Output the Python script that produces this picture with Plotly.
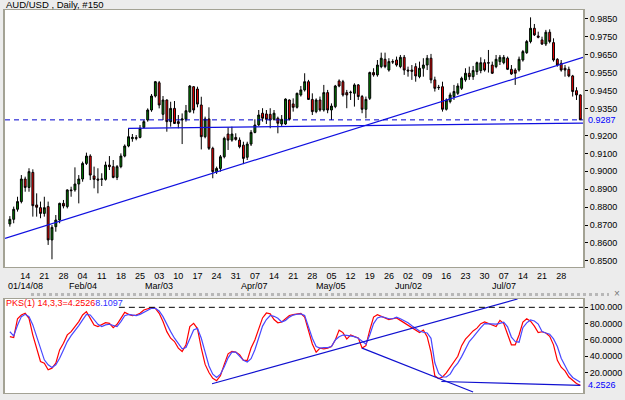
import plotly.graph_objects as go
import pandas as pd

# ---------------- data ----------------
start_date = "2008-01-08"
n_bars = 150

opens = [0.8706,0.8732,0.8788,0.8831,0.8957,0.8910,0.8994,0.8812,0.8797,0.8765,
         0.8803,0.8617,0.8691,0.8728,0.8821,0.8803,0.8896,0.8896,0.8929,0.8957,
         0.9044,0.9085,0.8974,0.8957,0.8955,0.8955,0.9035,0.9026,0.8966,0.9026,
         0.9085,0.9141,0.9182,0.9188,0.9189,0.9245,0.9286,0.9342,0.9420,0.9494,
         0.9318,0.9398,0.9277,0.9351,0.9277,0.9286,0.9290,0.9332,0.9472,0.9459,
         0.9370,0.9193,0.9292,0.9128,0.8998,0.9016,0.9081,0.9208,0.9174,0.9189,
         0.9174,0.9146,0.9078,0.9152,0.9217,0.9259,0.9324,0.9320,0.9318,0.9290,
         0.9296,0.9264,0.9264,0.9398,0.9376,0.9357,0.9426,0.9454,0.9500,0.9401,
         0.9333,0.9398,0.9342,0.9439,0.9342,0.9361,0.9504,0.9500,0.9439,0.9439,
         0.9435,0.9482,0.9417,0.9346,0.9407,0.9551,0.9538,0.9584,0.9625,0.9565,
         0.9612,0.9621,0.9584,0.9636,0.9565,0.9565,0.9584,0.9528,0.9575,0.9593,
         0.9631,0.9510,0.9469,0.9472,0.9346,0.9389,0.9417,0.9435,0.9463,0.9510,
         0.9547,0.9528,0.9556,0.9562,0.9606,0.9606,0.9593,0.9584,0.9612,0.9606,
         0.9631,0.9569,0.9565,0.9565,0.9621,0.9662,0.9724,0.9798,0.9755,0.9733,
         0.9710,0.9776,0.9718,0.9625,0.9603,0.9575,0.9569,0.9532,0.9450,0.9426]
highs = [0.8750,0.8803,0.8858,0.8979,0.8970,0.9017,0.9011,0.8877,0.8831,0.8858,
         0.8831,0.8700,0.8756,0.8825,0.8840,0.8899,0.8914,0.9022,0.8979,0.9054,
         0.9104,0.9095,0.9026,0.9017,0.8989,0.9054,0.9085,0.9063,0.9035,0.9100,
         0.9150,0.9240,0.9208,0.9202,0.9258,0.9286,0.9351,0.9431,0.9504,0.9504,
         0.9420,0.9401,0.9388,0.9392,0.9314,0.9323,0.9370,0.9481,0.9476,0.9472,
         0.9416,0.9305,0.9357,0.9137,0.9026,0.9091,0.9193,0.9245,0.9249,0.9212,
         0.9189,0.9165,0.9165,0.9230,0.9290,0.9342,0.9352,0.9342,0.9352,0.9342,
         0.9305,0.9314,0.9407,0.9401,0.9407,0.9439,0.9476,0.9547,0.9510,0.9435,
         0.9407,0.9417,0.9482,0.9454,0.9379,0.9482,0.9513,0.9510,0.9454,0.9450,
         0.9491,0.9487,0.9426,0.9417,0.9556,0.9575,0.9621,0.9662,0.9662,0.9631,
         0.9625,0.9640,0.9649,0.9649,0.9584,0.9593,0.9603,0.9612,0.9631,0.9649,
         0.9655,0.9528,0.9482,0.9500,0.9407,0.9439,0.9482,0.9491,0.9528,0.9575,
         0.9584,0.9588,0.9612,0.9636,0.9625,0.9677,0.9612,0.9649,0.9649,0.9649,
         0.9640,0.9593,0.9575,0.9640,0.9677,0.9733,0.9859,0.9822,0.9779,0.9751,
         0.9789,0.9792,0.9742,0.9631,0.9621,0.9593,0.9584,0.9538,0.9469,0.9429]
lows = [0.8691,0.8710,0.8775,0.8821,0.8886,0.8886,0.8747,0.8747,0.8738,0.8747,
        0.8589,0.8509,0.8663,0.8710,0.8793,0.8793,0.8858,0.8886,0.8821,0.8942,
        0.9035,0.8951,0.8905,0.8877,0.8918,0.8948,0.9007,0.8961,0.8951,0.9017,
        0.9078,0.9134,0.9165,0.9173,0.9184,0.9240,0.9277,0.9332,0.9412,0.9351,
        0.9286,0.9221,0.9249,0.9264,0.9240,0.9152,0.9277,0.9327,0.9323,0.9357,
        0.9122,0.9184,0.9119,0.8961,0.8985,0.8998,0.9072,0.9119,0.9165,0.9171,
        0.9128,0.9040,0.9063,0.9141,0.9212,0.9253,0.9277,0.9264,0.9240,0.9283,
        0.9212,0.9253,0.9259,0.9283,0.9333,0.9350,0.9417,0.9445,0.9398,0.9314,
        0.9324,0.9333,0.9333,0.9324,0.9286,0.9352,0.9469,0.9417,0.9352,0.9398,
        0.9361,0.9398,0.9324,0.9296,0.9398,0.9528,0.9528,0.9575,0.9575,0.9556,
        0.9599,0.9584,0.9575,0.9538,0.9528,0.9510,0.9500,0.9519,0.9528,0.9565,
        0.9491,0.9445,0.9454,0.9333,0.9339,0.9379,0.9398,0.9426,0.9454,0.9500,
        0.9510,0.9510,0.9538,0.9547,0.9556,0.9551,0.9543,0.9575,0.9593,0.9597,
        0.9565,0.9538,0.9482,0.9556,0.9612,0.9655,0.9714,0.9755,0.9742,0.9705,
        0.9699,0.9714,0.9612,0.9584,0.9556,0.9528,0.9525,0.9417,0.9398,0.9287]
closes = [0.8732,0.8788,0.8831,0.8957,0.8910,0.8998,0.8808,0.8799,0.8765,0.8797,
          0.8617,0.8687,0.8728,0.8821,0.8806,0.8896,0.8892,0.8929,0.8957,0.9044,
          0.9085,0.8979,0.8955,0.8951,0.8957,0.9035,0.9026,0.8966,0.9026,0.9085,
          0.9141,0.9193,0.9189,0.9184,0.9240,0.9277,0.9342,0.9420,0.9500,0.9370,
          0.9398,0.9277,0.9351,0.9267,0.9267,0.9292,0.9338,0.9476,0.9342,0.9375,
          0.9193,0.9292,0.9128,0.8998,0.9016,0.9081,0.9184,0.9174,0.9208,0.9178,
          0.9137,0.9072,0.9152,0.9217,0.9258,0.9314,0.9296,0.9290,0.9286,0.9324,
          0.9268,0.9290,0.9403,0.9290,0.9357,0.9435,0.9454,0.9500,0.9401,0.9333,
          0.9398,0.9342,0.9439,0.9342,0.9364,0.9476,0.9476,0.9426,0.9426,0.9441,
          0.9482,0.9417,0.9346,0.9401,0.9551,0.9538,0.9593,0.9631,0.9584,0.9612,
          0.9610,0.9593,0.9636,0.9565,0.9560,0.9558,0.9532,0.9575,0.9593,0.9631,
          0.9510,0.9463,0.9467,0.9346,0.9398,0.9426,0.9445,0.9476,0.9519,0.9547,
          0.9528,0.9562,0.9606,0.9606,0.9565,0.9604,0.9547,0.9625,0.9636,0.9636,
          0.9569,0.9543,0.9547,0.9625,0.9668,0.9724,0.9798,0.9761,0.9748,0.9710,
          0.9776,0.9724,0.9621,0.9593,0.9565,0.9565,0.9532,0.9445,0.9426,0.9287]

stoch_k = [64,63,86,90.6,92.7,86.5,66,50,33.5,31.5,
           23.3,25.4,31.5,47.8,56,66.2,70.2,76.4,82.5,90.6,
           94.7,86.5,78.4,76.4,78.4,81.2,80.4,75.1,79.2,87.4,
           93.9,91.4,89.8,90.6,92.7,96.7,98,99.6,98.8,92.7,
           82.5,70.2,62.1,58,49.9,45.8,53.9,76.4,80.4,74,
           50,30,20,13,10,16,30,43,46,45,
           42,35,35,50,60,75,87,93,92,85,
           81,82,86,90,91,92,92.5,88,72,55,
           45,50,49,50,52,60,72,69,61,66,
           64,62.5,50,53,72,88,91,89,86.5,85,
           86,87,84,81,79,75,72,69,72,64,
           45,16,12.5,14.5,19.5,26,34,40,53,61,
           66,71,74.5,80,82,80,78,76.5,84,80,
           67,54,54,66,82,86,83,77,69,70,
           68.5,64.5,54,35,26.5,22,14.5,10,6.5,4.25]
stoch_d = [70,65,78,88.6,91.4,88.6,78.4,64,47.8,35.6,
           29.5,26.2,29.5,37.6,47.8,58,65.3,71,77.6,84.5,
           91.4,90.6,84.5,79.2,76.4,78.4,79.2,77.6,76.4,82.5,
           89.8,91.4,90.6,89.8,91.4,93.9,96.7,98.8,98.8,95.5,
           88.6,78.4,70.2,62.1,54.7,49,50.6,62.1,72.3,74.3,
           62,45,28,18,14,18,27,38,45,45,
           40,35,33,37,48,63,77,85,90,89,
           86.5,82,84,88,90.5,91.5,92,90,77,62,
           52,50,50.5,50.6,52,60,64,66,65.5,65,
           64,62,59,55,66,80,87,88.5,87.5,86,
           86,88,86,84,81,77.5,74.5,71,69.4,68.5,
           62,32,19,14.5,14.5,18,26,31.5,39.5,48,
           58,63.5,69.5,75,80,79.5,79.2,79.3,80.3,81.7,
           76,63.5,58,57.2,75,81,84.5,83.3,79.5,70.2,
           68.5,67,61.3,51.9,37.5,29,19.5,14,11,8.11]

price_ticks = [0.85, 0.86, 0.87, 0.88, 0.89, 0.90, 0.91, 0.92,
               0.935, 0.945, 0.955, 0.965, 0.975, 0.985]
stoch_ticks = [20, 40, 60, 80, 100]
stoch_tick_text = ["20.0000", "40.0000", "60.0000", "80.0000", "100.000"]

last_day_label = "2008-07-28"   # last labelled Monday on the date axis

month_dates = ["2008-01-14", "2008-02-04", "2008-03-03", "2008-04-07",
               "2008-05-05", "2008-06-02", "2008-07-07"]
month_text = ["01/14/08", "Feb/04", "Mar/03", "Apr/07", "May/05", "Jun/02", "Jul/07"]

title_text = "AUD/USD , Daily, #150"
last_close = 0.9287
k_last = 4.2526
d_last = 8.1097

# hand-drawn trend lines (bar index, value)
price_trend_x = [-1.27, 149.7]
price_trend_y = [0.8626, 0.9636]
support_x = [30.9, 149.7]
support_y = [0.9240, 0.9269]
stoch_up_x = [52.8, 132.6]
stoch_up_y = [6.2, 110.2]
stoch_down_x = [92.0, 121.0]
stoch_down_y = [49.9, -3.9]
stoch_flat_x = [112.7, 149.0]
stoch_flat_y = [9.0, 4.25]

# ---------------- figure ----------------
dates = pd.bdate_range(start_date, periods=n_bars)
idx = list(range(n_bars))
tick_idx = [i for i, d in enumerate(dates)
            if d.weekday() == 0 and d <= pd.Timestamp(last_day_label)]
tick_text = [dates[i].strftime("%d") for i in tick_idx]
month_idx = [dates.get_loc(pd.Timestamp(d)) for d in month_dates]

X_RANGE = [-1.27, 149.7]
FONT = "Liberation Sans"
FRAME = "#A3A294"

fig = go.Figure()

fig.add_trace(go.Candlestick(
    x=idx, open=opens, high=highs, low=lows, close=closes,
    increasing=dict(fillcolor="#008000", line=dict(color="#000000", width=1)),
    decreasing=dict(fillcolor="#FF0000", line=dict(color="#000000", width=1)),
    whiskerwidth=0, showlegend=False, hoverinfo="skip", xaxis="x", yaxis="y"))

fig.add_trace(go.Scatter(x=price_trend_x, y=price_trend_y, mode="lines",
                         line=dict(color="#1010E0", width=1.2), xaxis="x", yaxis="y",
                         hoverinfo="skip"))
fig.add_trace(go.Scatter(x=support_x, y=support_y, mode="lines",
                         line=dict(color="#1010E0", width=1.2), xaxis="x", yaxis="y",
                         hoverinfo="skip"))

fig.add_trace(go.Scatter(x=idx, y=stoch_k, mode="lines",
                         line=dict(color="#FF0000", width=1.2), xaxis="x2", yaxis="y2",
                         hoverinfo="skip"))
fig.add_trace(go.Scatter(x=idx, y=stoch_d, mode="lines",
                         line=dict(color="#4848FF", width=1.2), xaxis="x2", yaxis="y2",
                         hoverinfo="skip"))
for lx, ly in [(stoch_up_x, stoch_up_y), (stoch_down_x, stoch_down_y), (stoch_flat_x, stoch_flat_y)]:
    fig.add_trace(go.Scatter(x=lx, y=ly, mode="lines",
                             line=dict(color="#1010D0", width=1.2), xaxis="x2", yaxis="y2",
                             hoverinfo="skip"))

shapes = [
    dict(type="line", xref="paper", x0=0, x1=1, yref="y", y0=last_close, y1=last_close,
         line=dict(color="#0000CC", width=1, dash="5px,4px")),
    dict(type="line", xref="paper", x0=0.197, x1=1, yref="y2", y0=100, y1=100,
         line=dict(color="#000000", width=1, dash="6px,4px")),
    dict(type="line", xref="paper", x0=0.045, x1=1.045, yref="paper",
         y0=0.2572, y1=0.2572, line=dict(color="#B8B8B8", width=3, dash="dot")),
]

annotations = [
    dict(text=title_text, xref="paper", yref="paper", x=-0.002, y=1.0131,
         xanchor="left", yanchor="middle", showarrow=False,
         font=dict(family=FONT, size=9.5, color="#000000")),
    dict(text="<span style='color:#FF0000'>PKS(1) 14,3,3=%.4f</span>"
              "<span style='color:#3030FF'>%.4f</span>" % (k_last, d_last),
         xref="paper", yref="paper", x=-0.002, y=0.235,
         xanchor="left", yanchor="middle", showarrow=False,
         font=dict(family=FONT, size=9)),
    dict(text="%.4f" % last_close, xref="paper", yref="y", x=1.0055, y=last_close,
         xanchor="left", yanchor="middle", showarrow=False,
         font=dict(family=FONT, size=9, color="#0000FF")),
    dict(text="%.4f" % k_last, xref="paper", yref="y2", x=1.0055, y=k_last,
         xanchor="left", yanchor="middle", showarrow=False,
         font=dict(family=FONT, size=9, color="#0000FF")),
    dict(text="×", xref="paper", yref="paper", x=1.058, y=0.2585,
         xanchor="center", yanchor="middle", showarrow=False,
         font=dict(family=FONT, size=10, color="#777777")),
]
for mi, mt in zip(month_idx, month_text):
    annotations.append(dict(text=mt, xref="x", yref="paper", x=mi, y=0.2802,
                            xanchor="center", yanchor="middle", showarrow=False,
                            font=dict(family=FONT, size=9, color="#000000")))

axis_common = dict(showgrid=False, zeroline=False, showline=True, mirror=True,
                   linecolor=FRAME)

fig.update_layout(
    width=625, height=400,
    margin=dict(l=3, r=39, t=10, b=7),
    paper_bgcolor="#ECECEC", plot_bgcolor="#FFFFFF",
    showlegend=False,
    font=dict(family=FONT, size=9, color="#000000"),
    xaxis=dict(domain=[0, 1], range=X_RANGE, anchor="y", tickmode="array",
               tickvals=tick_idx, ticktext=tick_text, ticks="", linewidth=1,
               rangeslider=dict(visible=False), tickfont=dict(size=9),
               **axis_common),
    yaxis=dict(domain=[0.329, 1], range=[0.8466, 0.9900], anchor="x", side="right",
               tickmode="array", tickvals=price_ticks, tickformat=".4f",
               ticks="outside", ticklen=3, tickcolor="#000000", linewidth=2,
               tickfont=dict(size=9), **axis_common),
    xaxis2=dict(domain=[0, 1], range=X_RANGE, anchor="y2", showticklabels=False,
                ticks="", linewidth=1, **axis_common),
    yaxis2=dict(domain=[0, 0.2454], range=[-5.1, 110.2], anchor="x2", side="right",
                tickmode="array", tickvals=stoch_ticks, ticktext=stoch_tick_text,
                ticks="outside", ticklen=3, tickcolor="#000000", linewidth=2,
                tickfont=dict(size=9), **axis_common),
    shapes=shapes,
    annotations=annotations,
)

fig.write_html("out.html")
